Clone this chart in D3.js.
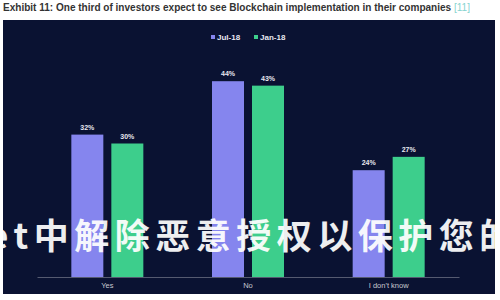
<!DOCTYPE html>
<html>
<head>
<meta charset="utf-8">
<script src="https://cdn.jsdelivr.net/npm/d3@7"></script>
<style>
  html, body { margin: 0; padding: 0; background: #fff; }
  svg { display: block; }
</style>
</head>
<body>
<div id="chart"></div>
<script>
// data
var categories = ["Yes", "No", "I don't know"];
var seriesNames = ["Jul-18", "Jan-18"];
var jul18 = [32, 44, 24];
var jan18 = [30, 43, 27];
var titleText = "Exhibit 11: One third of investors expect to see Blockchain implementation in their companies";
var titleRef = "[11]";
var overlayText = "et中解除恶意授权以保护您的";

var colors = ["#8585ee", "#3dce8c"];
var panelColor = "#0a1232";
var sans = "'Liberation Sans', Arial, sans-serif";

var W = 500, H = 300;
var svg = d3.select("#chart").append("svg")
  .attr("width", W)
  .attr("height", H);

// title, sized so the main part runs to about x=452
var title = svg.append("text")
  .attr("x", 3)
  .attr("y", 11)
  .attr("font-family", sans)
  .attr("font-size", 9)
  .attr("font-weight", "bold")
  .attr("fill", "#333");
var tMain = title.append("tspan").text(titleText);
var fitSize = 9 * 449 / tMain.node().getComputedTextLength();
title.attr("font-size", fitSize);
title.append("tspan").attr("fill", "#86d4cf").attr("font-weight", "normal").text(" " + titleRef);

// dark panel
svg.append("rect")
  .attr("x", 3).attr("y", 20)
  .attr("width", 492).attr("height", 274)
  .attr("fill", panelColor);

// scales
var x0 = d3.scaleBand().domain(categories).range([37, 459]).padding(0);
var x1 = d3.scaleBand().domain(seriesNames).range([0, 72]).paddingInner(0.2);
var y = d3.scaleLinear().domain([0, 50]).range([277, 54.5]);

var rows = categories.map(function(c, i) {
  return { cat: c, values: [jul18[i], jan18[i]] };
});

var groups = svg.append("g").selectAll("g")
  .data(rows)
  .enter().append("g")
  .attr("transform", function(d) {
    return "translate(" + (x0(d.cat) + x0.bandwidth() / 2 - 36) + ",0)";
  });

var bars = groups.selectAll("g")
  .data(function(d) {
    return d.values.map(function(v, j) { return { key: seriesNames[j], v: v, j: j }; });
  })
  .enter().append("g");

bars.append("rect")
  .attr("x", function(d) { return x1(d.key); })
  .attr("y", function(d) { return y(d.v); })
  .attr("width", x1.bandwidth())
  .attr("height", function(d) { return y(0) - y(d.v); })
  .attr("fill", function(d) { return colors[d.j]; });

bars.append("text")
  .attr("x", function(d) { return x1(d.key) + x1.bandwidth() / 2; })
  .attr("y", function(d) { return y(d.v) - 5; })
  .attr("text-anchor", "middle")
  .attr("font-family", sans)
  .attr("font-size", 7)
  .attr("font-weight", "bold")
  .attr("fill", "#e8e8f0")
  .text(function(d) { return d.v + "%"; });

// x axis
var xAxis = svg.append("g")
  .attr("transform", "translate(0," + y(0) + ")")
  .call(d3.axisBottom(x0).tickSize(0).tickPadding(6));
xAxis.select(".domain").attr("stroke", "#555a70").attr("stroke-width", 1);
xAxis.selectAll("text")
  .attr("font-family", sans)
  .attr("font-size", 7.5)
  .attr("fill", "#c8c8d0");

// legend
var legend = svg.append("g").selectAll("g")
  .data(seriesNames)
  .enter().append("g")
  .attr("transform", function(d, i) { return "translate(" + (211 + i * 43) + ",40)"; });
legend.append("rect")
  .attr("x", 0).attr("y", -5)
  .attr("width", 4).attr("height", 4)
  .attr("fill", function(d, i) { return colors[i]; });
legend.append("text")
  .attr("x", 6).attr("y", 0)
  .attr("font-family", sans)
  .attr("font-size", 8)
  .attr("font-weight", "bold")
  .attr("fill", "#e8e8f0")
  .text(function(d) { return d; });

// overlay watermark text
svg.append("text")
  .attr("x", -12)
  .attr("y", 249)
  .attr("font-family", "'Noto Sans CJK SC', sans-serif")
  .attr("font-size", 35)
  .attr("font-weight", "bold")
  .attr("letter-spacing", 5.5)
  .attr("fill", "#ffffff")
  .attr("opacity", 0.93)
  .text(overlayText);
</script>
</body>
</html>
